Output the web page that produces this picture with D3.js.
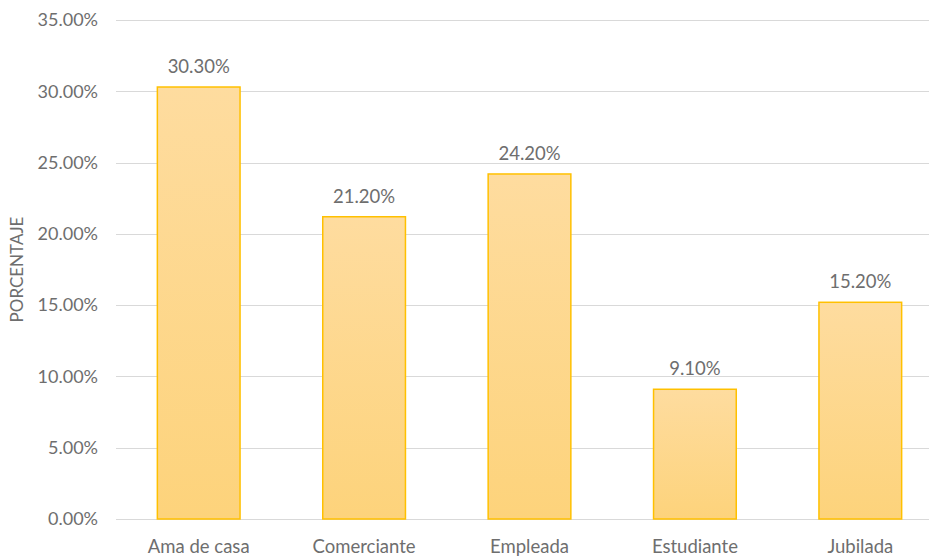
<!DOCTYPE html>
<html>
<head>
<meta charset="utf-8">
<script src="https://cdn.jsdelivr.net/npm/d3@7"></script>
<style>
  html, body { margin: 0; padding: 0; background: #fff; }
  svg text { font-family: Lato, "Open Sans", sans-serif; fill: #6E6E6E; }
</style>
</head>
<body>
<svg id="chart" width="929" height="556"></svg>
<script>
const categories = ["Ama de casa", "Comerciante", "Empleada", "Estudiante", "Jubilada"];
const values = [30.3, 21.2, 24.2, 9.1, 15.2];
const yTicks = [0, 5, 10, 15, 20, 25, 30, 35];

const svg = d3.select("#chart");
const margin = { left: 116, right: -14, top: 20, bottom: 37 };
const W = 929, H = 556;

const x = d3.scaleBand()
  .domain(categories)
  .range([margin.left, W - margin.right])
  .paddingInner(0.5)
  .paddingOuter(0.25);

const y = d3.scaleLinear()
  .domain([0, 35])
  .range([H - margin.bottom, margin.top]);

const defs = svg.append("defs");
const grad = defs.append("linearGradient")
  .attr("id", "barFill")
  .attr("x1", 0).attr("y1", 0).attr("x2", 0).attr("y2", 1);
grad.append("stop").attr("offset", "0%").attr("stop-color", "#FEDC9F");
grad.append("stop").attr("offset", "100%").attr("stop-color", "#FDD37B");

// horizontal gridlines
svg.append("g")
  .selectAll("line")
  .data(yTicks)
  .join("line")
  .attr("x1", margin.left)
  .attr("x2", W)
  .attr("y1", d => Math.round(y(d)) + 0.5)
  .attr("y2", d => Math.round(y(d)) + 0.5)
  .attr("stroke", "#D9D9D9")
  .attr("stroke-width", 1);

// y axis labels
const yAxis = d3.axisLeft(y)
  .tickValues(yTicks)
  .tickSize(0)
  .tickPadding(18)
  .tickFormat(d => d.toFixed(2) + "%");
const gy = svg.append("g")
  .attr("transform", `translate(${margin.left},0)`)
  .call(yAxis);
gy.select(".domain").remove();
gy.selectAll("text").attr("font-size", 18).style("font-family", null);

// bars
svg.append("g")
  .selectAll("rect")
  .data(values)
  .join("rect")
  .attr("x", (d, i) => x(categories[i]))
  .attr("width", x.bandwidth())
  .attr("y", d => y(d))
  .attr("height", d => y(0) - y(d))
  .attr("fill", "url(#barFill)")
  .attr("stroke", "#FFC000")
  .attr("stroke-width", 1.5);

// value labels
svg.append("g")
  .selectAll("text")
  .data(values)
  .join("text")
  .attr("x", (d, i) => x(categories[i]) + x.bandwidth() / 2)
  .attr("y", d => y(d) - 14)
  .attr("text-anchor", "middle")
  .attr("font-size", 18.5)
  .text(d => d.toFixed(2) + "%");

// x axis labels
const xAxis = d3.axisBottom(x).tickSize(0).tickPadding(21);
const gx = svg.append("g")
  .attr("transform", `translate(0,${y(0)})`)
  .call(xAxis);
gx.select(".domain").remove();
gx.selectAll("text").attr("font-size", 18.5).style("font-family", null);

// y axis title
svg.append("text")
  .attr("transform", `translate(23,${(y(0) + y(35)) / 2}) rotate(-90)`)
  .attr("text-anchor", "middle")
  .attr("font-size", 17)
  .text("PORCENTAJE");
</script>
</body>
</html>
